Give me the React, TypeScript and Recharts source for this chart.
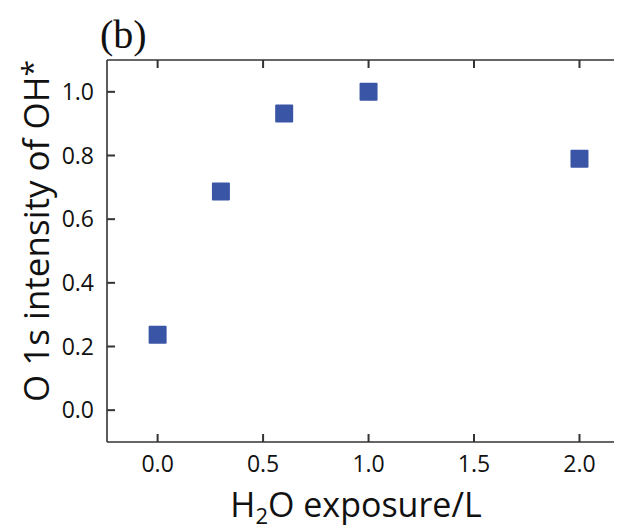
import React from "react";
import { ScatterChart, Scatter, XAxis, YAxis, ZAxis, Label } from "recharts";

const exposure = [0, 0.3, 0.6, 1.0, 2.0];
const intensity = [0.237, 0.687, 0.932, 1.0, 0.79];
const xTicks = [0, 0.5, 1.0, 1.5, 2.0];
const yTicks = [0, 0.2, 0.4, 0.6, 0.8, 1.0];
const xDomain = [-0.24, 2.23];
const yDomain = [-0.1, 1.1];

const data = exposure.map((x, i) => ({ x, y: intensity[i] }));

const FONT = "'Open Sans', 'DejaVu Sans', sans-serif";
const AXIS = "#333";
const MARK = "#3B55A6";
const TL = 8;

const Square = (props: any) => {
  const { cx, cy } = props;
  if (cx == null || cy == null) return <g />;
  return <rect x={cx - 9} y={cy - 9} width={18} height={18} fill={MARK} rx={1} />;
};

const BottomTick = (props: any) => (
  <text x={Number(props.x)} y={Number(props.y) + 16} textAnchor="middle" fontFamily={FONT} fontSize={23} fill="#111">
    {Number(props.payload.value).toFixed(1)}
  </text>
);

const LeftTick = (props: any) => (
  <text x={Number(props.x)} y={Number(props.y) + 8} textAnchor="end" fontFamily={FONT} fontSize={23} fill="#111">
    {Number(props.payload.value).toFixed(1)}
  </text>
);

const Empty = () => <g />;

const xPos = (vb: any, v: number) => vb.x + ((v - xDomain[0]) / (xDomain[1] - xDomain[0])) * vb.width;
const yPos = (vb: any, v: number) => vb.y + vb.height - ((v - yDomain[0]) / (yDomain[1] - yDomain[0])) * vb.height;

const BottomMarks = (props: any) => {
  const vb = props.viewBox || {};
  return (
    <g>
      {xTicks.map((v) => (
        <path key={v} d={`M${xPos(vb, v)},${vb.y}V${vb.y - TL}`} stroke={AXIS} strokeWidth={2} fill="none" />
      ))}
    </g>
  );
};

const TopMarks = (props: any) => {
  const vb = props.viewBox || {};
  const y = vb.y + vb.height;
  return (
    <g>
      {xTicks.map((v) => (
        <path key={v} d={`M${xPos(vb, v)},${y}V${y + TL}`} stroke={AXIS} strokeWidth={2} fill="none" />
      ))}
    </g>
  );
};

const LeftMarks = (props: any) => {
  const vb = props.viewBox || {};
  const x = vb.x + vb.width;
  return (
    <g>
      {yTicks.map((v) => (
        <path key={v} d={`M${x},${yPos(vb, v)}H${x + TL}`} stroke={AXIS} strokeWidth={2} fill="none" />
      ))}
    </g>
  );
};

const RightMarks = (props: any) => {
  const vb = props.viewBox || {};
  return (
    <g>
      {yTicks.map((v) => (
        <path key={v} d={`M${vb.x},${yPos(vb, v)}H${vb.x - TL}`} stroke={AXIS} strokeWidth={2} fill="none" />
      ))}
    </g>
  );
};

const XTitle = (props: any) => {
  const vb = props.viewBox || {};
  return (
    <text x={vb.x + 249} y={vb.y + 75} textAnchor="middle" fontFamily={FONT} fontSize={34} fill="#111">
      H<tspan fontSize={22} dy={7}>2</tspan>
      <tspan dy={-7}>O exposure/L</tspan>
    </text>
  );
};

const YTitle = (props: any) => {
  const vb = props.viewBox || {};
  const cx = 41;
  const cy = vb.y + vb.height / 2 - 20;
  return (
    <text
      x={cx}
      y={cy}
      transform={`rotate(-90, ${cx}, ${cy})`}
      textAnchor="middle"
      fontFamily={FONT}
      fontSize={35}
      fill="#111"
    >
      O 1s intensity of OH<tspan fontSize={30} dy={-6}>*</tspan>
    </text>
  );
};

const Panel = () => (
  <text x={92} y={40} fontFamily="'Liberation Serif', 'Times New Roman', serif" fontSize={40} fill="#111">
    (b)
  </text>
);

export default function App() {
  return (
    <ScatterChart width={614} height={521} margin={{ top: 51, right: -7, bottom: 0, left: 0 }}>
      <ZAxis range={[324, 324]} />
      <XAxis
        xAxisId={0}
        dataKey="x"
        type="number"
        domain={xDomain}
        ticks={xTicks}
        height={87}
        tickSize={0}
        tickMargin={14}
        tick={BottomTick}
        tickLine={false}
        axisLine={{ stroke: AXIS, strokeWidth: 1.6 }}
        allowDataOverflow
      >
        <Label content={XTitle} />
        <Label content={BottomMarks} />
      </XAxis>
      <XAxis
        xAxisId="top"
        orientation="top"
        dataKey="x"
        type="number"
        domain={xDomain}
        ticks={xTicks}
        height={1}
        tickSize={0}
        tick={Empty}
        tickLine={false}
        axisLine={{ stroke: AXIS, strokeWidth: 1.6 }}
        allowDataOverflow
      >
        <Label content={Panel} />
        <Label content={TopMarks} />
      </XAxis>
      <YAxis
        yAxisId={0}
        dataKey="y"
        type="number"
        domain={yDomain}
        ticks={yTicks}
        width={99}
        tickSize={0}
        tickMargin={13}
        tick={LeftTick}
        tickLine={false}
        axisLine={{ stroke: AXIS, strokeWidth: 1.6 }}
        allowDataOverflow
      >
        <Label content={YTitle} />
        <Label content={LeftMarks} />
      </YAxis>
      <YAxis
        yAxisId="right"
        orientation="right"
        dataKey="y"
        type="number"
        domain={yDomain}
        ticks={yTicks}
        width={1}
        tickSize={0}
        tick={Empty}
        tickLine={false}
        axisLine={{ stroke: AXIS, strokeWidth: 1.6 }}
        allowDataOverflow
      >
        <Label content={RightMarks} />
      </YAxis>
      <Scatter data={data} xAxisId={0} yAxisId={0} shape={Square} isAnimationActive={false} />
    </ScatterChart>
  );
}
